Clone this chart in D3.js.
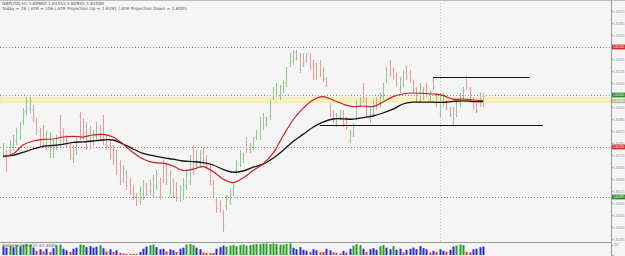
<!doctype html>
<html>
<head>
<meta charset="utf-8">
<title>GBPUSD,H1</title>
<script src="https://cdn.jsdelivr.net/npm/d3@7"></script>
<style>
body { margin: 0; background: #f5f5f5; }
svg { display: block; font-family: 'Liberation Sans', sans-serif; }
.ax text { fill: #8c8c8c; font-size: 3.1px; }
.ax path, .ax line { stroke: #9a9a9a; shape-rendering: crispEdges; }
.info { fill: #555; font-size: 4.3px; font-family: 'DejaVu Sans', sans-serif; }
.tag { fill: #fff; font-size: 3.1px; }
</style>
</head>
<body>
<script>
// H1 bars, oldest first
var high = [1.60765,1.6073,1.6078,1.60805,1.6084,1.6087,1.6094,1.60995,1.60995,1.60955,
  1.6089,1.6084,1.60855,1.6083,1.6082,1.6078,1.60805,1.60905,1.6084,1.60805,
  1.60765,1.60755,1.6079,1.6092,1.6089,1.6087,1.6085,1.6083,1.6087,1.60855,
  1.60905,1.6081,1.6078,1.60755,1.6073,1.6068,1.60655,1.6063,1.6059,1.60555,
  1.60515,1.6055,1.6058,1.60565,1.6058,1.60605,1.6063,1.6059,1.6068,1.6067,
  1.6063,1.6059,1.6057,1.60555,1.6059,1.6063,1.60705,1.60755,1.6073,1.6073,
  1.6074,1.60705,1.60655,1.6058,1.6049,1.6048,1.6043,1.60505,1.6053,1.6057,
  1.6068,1.6073,1.60715,1.60795,1.60765,1.60795,1.6083,1.60895,1.60915,1.60895,
  1.6098,1.61045,1.61065,1.61055,1.6108,1.61145,1.61215,1.6123,1.6123,1.61215,
  1.61215,1.61215,1.61215,1.6118,1.61165,1.6118,1.61145,1.61095,1.60965,1.6093,
  1.60915,1.6093,1.6093,1.60895,1.6083,1.60865,1.6098,1.60995,1.61065,1.60995,
  1.60945,1.6098,1.60995,1.61015,1.61065,1.61145,1.6118,1.61145,1.61115,1.61095,
  1.6113,1.61155,1.6113,1.6108,1.61045,1.61065,1.61045,1.61065,1.6103,1.61095,
  1.61015,1.61015,1.61015,1.6098,1.60945,1.60945,1.6098,1.61015,1.61045,1.61105,
  1.61045,1.60995,1.60965,1.6102,1.61015];
var low = [1.6069,1.6062,1.60705,1.6073,1.60755,1.6078,1.60855,1.60905,1.60915,1.6087,
  1.60805,1.6074,1.6074,1.6073,1.6069,1.6069,1.6073,1.6074,1.60755,1.60745,
  1.6068,1.60665,1.60705,1.6078,1.6078,1.6073,1.6073,1.6075,1.6078,1.6078,
  1.60755,1.6073,1.6068,1.60655,1.60605,1.60555,1.60565,1.6053,1.60505,1.6048,
  1.6045,1.60455,1.6048,1.605,1.60505,1.60495,1.6053,1.6048,1.60565,1.60555,
  1.60505,1.6049,1.6047,1.6047,1.6048,1.6053,1.60555,1.60605,1.6063,1.6064,
  1.60655,1.6063,1.60555,1.60495,1.60415,1.60415,1.6032,1.6043,1.60455,1.605,
  1.60605,1.60645,1.60665,1.60715,1.60715,1.6073,1.6078,1.6078,1.6083,1.60845,
  1.6088,1.6098,1.60995,1.6098,1.61015,1.61045,1.61145,1.61155,1.6118,1.61115,
  1.61145,1.61165,1.6113,1.6108,1.6108,1.61095,1.6107,1.61045,1.60895,1.60865,
  1.60845,1.6088,1.60845,1.6083,1.60765,1.60795,1.6088,1.60945,1.60965,1.60895,
  1.60865,1.60895,1.6093,1.60945,1.6098,1.61065,1.61095,1.6108,1.61045,1.61015,
  1.61045,1.6108,1.61065,1.61015,1.60965,1.60965,1.6098,1.60995,1.60965,1.6103,
  1.60945,1.60895,1.60945,1.6093,1.60895,1.60845,1.60895,1.60945,1.6098,1.6103,
  1.6098,1.6093,1.60915,1.60945,1.60945];
var open = [1.6071,1.6071,1.60725,1.6075,1.60775,1.608,1.60875,1.60925,1.60935,1.60935,
  1.6087,1.6082,1.60835,1.6075,1.6071,1.6071,1.6075,1.60885,1.6082,1.60795,
  1.60745,1.60685,1.60725,1.609,1.6087,1.6085,1.6083,1.6077,1.608,1.60835,
  1.60885,1.6079,1.6076,1.60735,1.6071,1.6066,1.60585,1.6061,1.6057,1.60535,
  1.60495,1.60475,1.605,1.60545,1.60525,1.60585,1.6055,1.6057,1.6066,1.6065,
  1.60525,1.6057,1.6055,1.6049,1.605,1.6055,1.60575,1.60735,1.6065,1.6066,
  1.6072,1.60685,1.60635,1.6056,1.6047,1.6046,1.6041,1.6045,1.60475,1.6052,
  1.60625,1.60665,1.60685,1.60775,1.6073,1.6075,1.60795,1.608,1.6085,1.6086,
  1.609,1.61,1.61015,1.61,1.61035,1.61065,1.61165,1.61175,1.6122,1.61135,
  1.612,1.61175,1.612,1.6116,1.6115,1.61165,1.6113,1.61085,1.6095,1.60915,
  1.6086,1.6089,1.60915,1.6088,1.6078,1.6081,1.609,1.60955,1.61045,1.60975,
  1.6088,1.6091,1.6098,1.6096,1.61,1.6108,1.61165,1.6113,1.611,1.6103,
  1.6106,1.6114,1.61115,1.61065,1.6103,1.6098,1.6103,1.6105,1.6098,1.6108,
  1.6096,1.6091,1.6096,1.6097,1.60935,1.6086,1.6091,1.6096,1.60995,1.6109,
  1.6103,1.6098,1.60955,1.61005,1.6096];
var close = [1.60745,1.6064,1.6076,1.60785,1.6082,1.6085,1.6092,1.60975,1.6098,1.6089,
  1.60825,1.6076,1.6076,1.6081,1.608,1.6076,1.60785,1.6076,1.60775,1.60755,
  1.607,1.60735,1.6077,1.608,1.608,1.6075,1.6075,1.6081,1.6085,1.608,
  1.60775,1.6075,1.607,1.60675,1.60625,1.60575,1.60635,1.6055,1.60525,1.605,
  1.6047,1.6053,1.6056,1.6052,1.6056,1.60515,1.6061,1.605,1.60585,1.60575,
  1.6061,1.6051,1.6049,1.60535,1.6057,1.6061,1.60685,1.60625,1.6071,1.6071,
  1.60675,1.6065,1.60575,1.60515,1.60435,1.60435,1.6035,1.60485,1.6051,1.6055,
  1.6066,1.6071,1.60705,1.60735,1.60755,1.60785,1.6082,1.60875,1.60895,1.60885,
  1.6096,1.6103,1.6105,1.6104,1.61065,1.61125,1.612,1.61215,1.6119,1.612,
  1.6116,1.61205,1.61145,1.611,1.61095,1.6111,1.61085,1.61055,1.6091,1.6088,
  1.609,1.6092,1.6086,1.60845,1.60815,1.6085,1.6096,1.60985,1.60985,1.60915,
  1.6093,1.60965,1.60945,1.61,1.61045,1.6113,1.6111,1.61095,1.6106,1.6108,
  1.61115,1.61095,1.6108,1.6103,1.6098,1.6105,1.60995,1.6101,1.61015,1.61045,
  1.61,1.61,1.61,1.6094,1.60905,1.6093,1.60965,1.61,1.6103,1.61045,
  1.60995,1.60945,1.60925,1.6096,1.61];

// moving averages read every 3 bars
var maStep = 3;
var redMA = [1.6070,1.6071,1.60755,1.60775,1.60783,1.60785,1.60795,1.60798,1.60795,1.60805,
  1.60808,1.60795,1.6076,1.60717,1.60685,1.60668,1.60664,1.6065,1.60628,1.60634,
  1.60647,1.60622,1.60585,1.60567,1.6059,1.60627,1.6066,1.60714,1.608,1.6088,
  1.60938,1.6098,1.60997,1.6098,1.6096,1.60947,1.6095,1.60947,1.6097,1.60997,
  1.6101,1.61015,1.61013,1.6101,1.61003,1.60984,1.60985,1.6098,1.60977];
var blackMA = [1.60698,1.60703,1.60718,1.60735,1.60748,1.60753,1.60758,1.60768,1.60771,1.60775,
  1.6078,1.6078,1.6076,1.60735,1.60713,1.60702,1.60692,1.60684,1.60675,1.60672,
  1.60667,1.60655,1.60633,1.60619,1.60625,1.60644,1.60659,1.60689,1.60728,1.60772,
  1.60808,1.60844,1.60869,1.60885,1.60886,1.60884,1.60892,1.609,1.60915,1.60934,
  1.6096,1.60969,1.60969,1.60969,1.60968,1.60973,1.60976,1.60972,1.60972];

var volume = [80,70,90,75,95,80,100,105,100,70, 40,55,35,60,30,65,95,100,60,45,
  30,60,70,100,95,75,85,70,80,95, 65,35,55,30,45,20,15,12,12,10,
  12,30,60,80,95,100,75,55,60,35, 55,45,30,60,70,100,105,95,70,55,
  25,20,18,20,60,75,90,80,90,95, 85,95,100,90,95,100,105,105,110,110,
  105,110,105,100,100,105,110,70,55,75, 50,40,30,55,45,25,30,60,45,25,
  20,15,40,25,60,90,105,95,60,30, 55,65,50,85,95,70,55,85,50,60,
  25,50,60,70,55,85,65,55,25,40, 30,55,40,30,50,80,90,100,95,30,
  25,55,60,75,80];
var volKind = ("bbgbgbgggb" + "rbrbrbggbb" + "rbbggbbbbg" + "brbrbrrrrr" + "rbbbggbbbr" +
  "bbrbbgggbb" + "rrrrbbbggg" + "gggggggggg" + "gggggggbbb" + "bbrbbrrbbr" +
  "rrbrbgggbr" + "bbbggbbgbb" + "rbbbbbbbrb" + "rbbrbbgggr" + "rbbbb").split("");

var priceTicks = [1.61425,1.61365,1.61305,1.61185,1.61125,1.61065,1.60945,1.60885,1.60825,
  1.60765,1.60705,1.60645,1.60585,1.60525,1.60465,1.60405,1.60345,1.60285];
var volTicks = [100, 0];

// levels: dotted horizontal lines with price tags
var dotLevels = [1.61245, 1.61005, 1.60745, 1.60495];
var dotKinds = ["red", "green", "red", "green"];
var bandTop = 1.6099, bandBottom = 1.6097;
var bid = 1.60980;
// black support/resistance segments (bar index from/to)
var srPrice = [1.61095, 1.60855];
var srFrom = [129, 95];
var srTo = [158, 162];
var sepBar = 131;

var infoLine2 = "Today = 26  |  ATR = 106  |  ATR Projection Up = 1.6191  |  ATR Projection Down = 1.6005";
var volLabel = "BetterVolume(2) 42.4445";

var W = 625, H = 256, axisX = 611, panelY = 242;

var svg = d3.select("body").append("svg").attr("width", W).attr("height", H);
svg.append("rect").attr("width", W).attr("height", H).attr("fill", "#f5f5f5");

var x = d3.scaleLinear().domain([0, 144]).range([3, 483]);
var y = d3.scaleLinear().domain([1.60285, 1.61425]).range([239, 11]);
var yv = d3.scaleLinear().domain([0, 110]).range([255, 243.5]);

svg.append("clipPath").attr("id", "main").append("rect")
  .attr("width", axisX).attr("height", panelY);
var g = svg.append("g").attr("clip-path", "url(#main)");

// yellow band at current price
g.append("rect").attr("x", 0).attr("width", axisX)
  .attr("y", y(bandTop)).attr("height", y(bandBottom) - y(bandTop))
  .attr("fill", "#fbf3b8").attr("stroke", "#eadb78").attr("stroke-width", 0.6);

g.selectAll(".lvl").data(dotLevels).enter().append("line")
  .attr("x1", 0).attr("x2", axisX)
  .attr("y1", function(d) { return Math.round(y(d)) + 0.5; })
  .attr("y2", function(d) { return Math.round(y(d)) + 0.5; })
  .attr("stroke", function(d, i) { return dotKinds[i] == "red" ? "#ee6262" : "#62b462"; })
  .attr("shape-rendering", "crispEdges")
  .attr("stroke-dasharray", "1,2");

// separator
g.append("line").attr("x1", Math.round(x(sepBar)) + 0.5).attr("x2", Math.round(x(sepBar)) + 0.5)
  .attr("y1", 0).attr("y2", H)
  .attr("stroke", "#c4c4c4").attr("stroke-dasharray", "1,2");

// bars
var idx = d3.range(high.length);
var bars = g.selectAll(".bar").data(idx).enter().append("g")
  .attr("stroke", function(i) { return close[i] >= open[i] ? "#92c692" : "#ea9c9c"; })
  .attr("stroke-width", 1);
bars.append("line")
  .attr("x1", function(i) { return Math.round(x(i)) + 0.5; })
  .attr("x2", function(i) { return Math.round(x(i)) + 0.5; })
  .attr("y1", function(i) { return y(high[i]); })
  .attr("y2", function(i) { return y(low[i]); });
bars.append("line")
  .attr("x1", function(i) { return Math.round(x(i)) - 0.5; })
  .attr("x2", function(i) { return Math.round(x(i)) + 0.5; })
  .attr("y1", function(i) { return y(open[i]); })
  .attr("y2", function(i) { return y(open[i]); });
bars.append("line")
  .attr("x1", function(i) { return Math.round(x(i)) + 0.5; })
  .attr("x2", function(i) { return Math.round(x(i)) + 1.5; })
  .attr("y1", function(i) { return y(close[i]); })
  .attr("y2", function(i) { return y(close[i]); });

// moving averages
var maLine = d3.line()
  .x(function(d, i) { return x(i * maStep); })
  .y(function(d) { return y(d); })
  .curve(d3.curveCatmullRom);
g.append("path").attr("d", maLine(blackMA)).attr("fill", "none")
  .attr("stroke", "#111").attr("stroke-width", 1.3);
g.append("path").attr("d", maLine(redMA)).attr("fill", "none")
  .attr("stroke", "#c8201e").attr("stroke-width", 1.2);

// support / resistance
g.selectAll(".sr").data(srPrice).enter().append("line")
  .attr("x1", function(d, i) { return x(srFrom[i]); })
  .attr("x2", function(d, i) { return x(srTo[i]); })
  .attr("y1", function(d) { return Math.round(y(d)) + 0.5; })
  .attr("y2", function(d) { return Math.round(y(d)) + 0.5; })
  .attr("stroke", "#111").attr("stroke-width", 1);

// info text
var last = high.length - 1;
var f5 = d3.format(".5f");
svg.append("text").attr("class", "info").attr("x", 2).attr("y", 5)
  .text("GBPUSD,H1  " + f5(open[last]) + " " + f5(high[last]) + " " + f5(low[last]) + " " + f5(close[last]));
svg.append("text").attr("class", "info").attr("x", 2).attr("y", 10).text(infoLine2);

// volume panel
svg.append("line").attr("x1", 0).attr("x2", axisX).attr("y1", panelY + 0.5).attr("y2", panelY + 0.5)
  .attr("stroke", "#9a9a9a");
var volColor = { g: "#23a023", b: "#2a2ad2", r: "#dd3a3a" };
svg.selectAll(".vol").data(volume).enter().append("rect")
  .attr("x", function(d, i) { return Math.round(x(i)) - 0.5; })
  .attr("width", 2)
  .attr("y", function(d) { return yv(d); })
  .attr("height", function(d) { return yv(0) - yv(d); })
  .attr("fill", function(d, i) { return volColor[volKind[i]]; });
svg.append("text").attr("class", "info").attr("x", 2).attr("y", panelY + 5).text(volLabel);

// top frame
svg.append("line").attr("x1", 0).attr("x2", W).attr("y1", 0.5).attr("y2", 0.5).attr("stroke", "#bdbdbd");

// right axis
svg.append("g").attr("class", "ax").attr("transform", "translate(" + (axisX + 0.5) + ",0)")
  .call(d3.axisRight(y).tickValues(priceTicks).tickSize(1).tickPadding(0.8).tickFormat(f5))
  .call(function(a) { a.select(".domain").attr("d", "M0,0V" + H); });
svg.append("g").attr("class", "ax").attr("transform", "translate(" + (axisX + 0.5) + ",0)")
  .call(d3.axisRight(yv).tickValues(volTicks).tickSize(1).tickPadding(0.8))
  .call(function(a) { a.select(".domain").remove(); });

// price tags on the axis
var tagColor = { red: "#dd2b2b", green: "#2c8c2c" };
var tags = svg.selectAll(".tagg").data(dotLevels).enter().append("g")
  .attr("transform", function(d) { return "translate(" + (axisX + 1) + "," + y(d) + ")"; });
tags.append("rect").attr("x", 0).attr("y", -2.4).attr("width", W - axisX - 1).attr("height", 4.8)
  .attr("fill", function(d, i) { return tagColor[dotKinds[i]]; });
tags.append("text").attr("class", "tag").attr("x", 1).attr("y", 1.1)
  .text(function(d) { return f5(d); });

var bidTag = svg.append("g").attr("transform", "translate(" + (axisX + 1) + "," + (y(bid) + 1) + ")");
bidTag.append("rect").attr("y", -2.2).attr("width", W - axisX - 1).attr("height", 4.4).attr("fill", "#b9b79c");
bidTag.append("text").attr("class", "tag").attr("x", 1).attr("y", 1.1).text(f5(bid));
</script>
</body>
</html>
